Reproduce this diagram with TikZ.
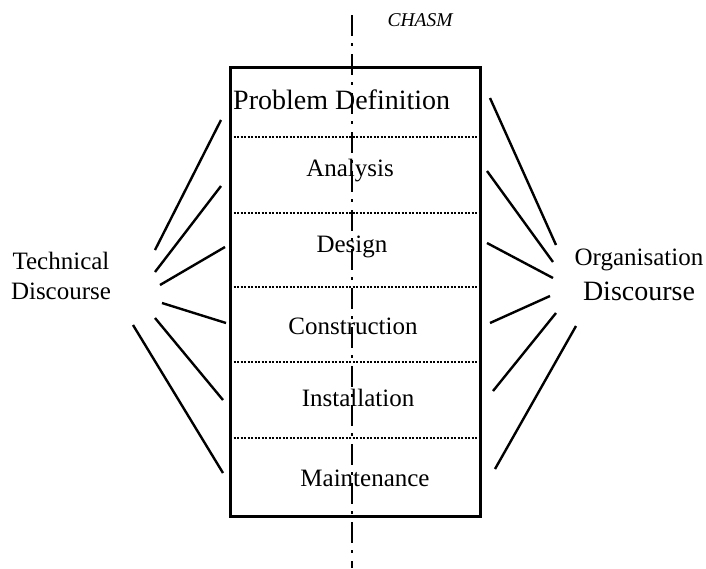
\documentclass[tikz,border=0pt]{standalone}
\usepackage{fontspec}
\setmainfont{Liberation Serif}
\begin{document}
\begin{tikzpicture}[x=1pt,y=-1pt]
% Styles
\tikzstyle{cadre}=[line width=3pt]
\tikzstyle{separation}=[line width=2pt,dash pattern=on 2pt off 1.5pt]
\tikzstyle{faille}=[line width=2.6pt,dash pattern=on 21pt off 7pt on 3pt off 8pt]
\tikzstyle{rayon}=[line width=2.4pt]
\tikzstyle{etape}=[font=\fontsize{25}{30}\selectfont,inner sep=0pt]
% Dimensions
\def\gauche{230}
\def\droite{480}
\def\haut{67}
\def\bas{516}
\def\milieu{352}
\useasboundingbox (0,0) rectangle (706,568);
% Encadrement
\draw[cadre] (\gauche,\haut) rectangle (\droite,\bas);
\foreach \y in {137,213,287,362,438}
  \draw[separation] (\gauche,\y) -- (\droite,\y);
% Ligne du gouffre
\coordinate (fhaut) at (\milieu,15);
\coordinate (fbas) at (\milieu,568);
\draw[faille] (fhaut) -- (fbas);
\node[font=\fontsize{19.5}{23}\selectfont\itshape,inner sep=0pt] (chasm) at (420,20) {CHASM};
% Etapes
\node[etape,anchor=west,font=\fontsize{28}{30}\selectfont] (defprob) at (233,100) {Problem Definition};
\node[etape] (analyse) at (350,171) {Analysis};
\node[etape] (concept) at (352,247) {Design};
\node[etape] (constr) at (353,326) {Construction};
\node[etape] (install) at (358,398) {Installation};
\node[etape] (maint) at (365,478) {Maintenance};
% Discours
\node[etape,align=center] (technique) at (61,276) {Technical\\Discourse};
\node[etape] (organ) at (639,260) {Organisation};
\node[etape,font=\fontsize{28}{30}\selectfont] (orgdisc) at (639,291) {Discourse};
% Rayons
\foreach \xa/\ya/\xb/\yb in {221/120/155/250, 221/186/155/272, 225/247/160/285,
  162/303/226/323, 155/318/223/400, 133/325/223/473,
  490/98/556/245, 487/171/553/262, 487/243/553/278,
  550/296/490/323, 556/313/493/391, 576/326/495/469}
  \draw[rayon] (\xa,\ya) -- (\xb,\yb);
\end{tikzpicture}
\end{document}
